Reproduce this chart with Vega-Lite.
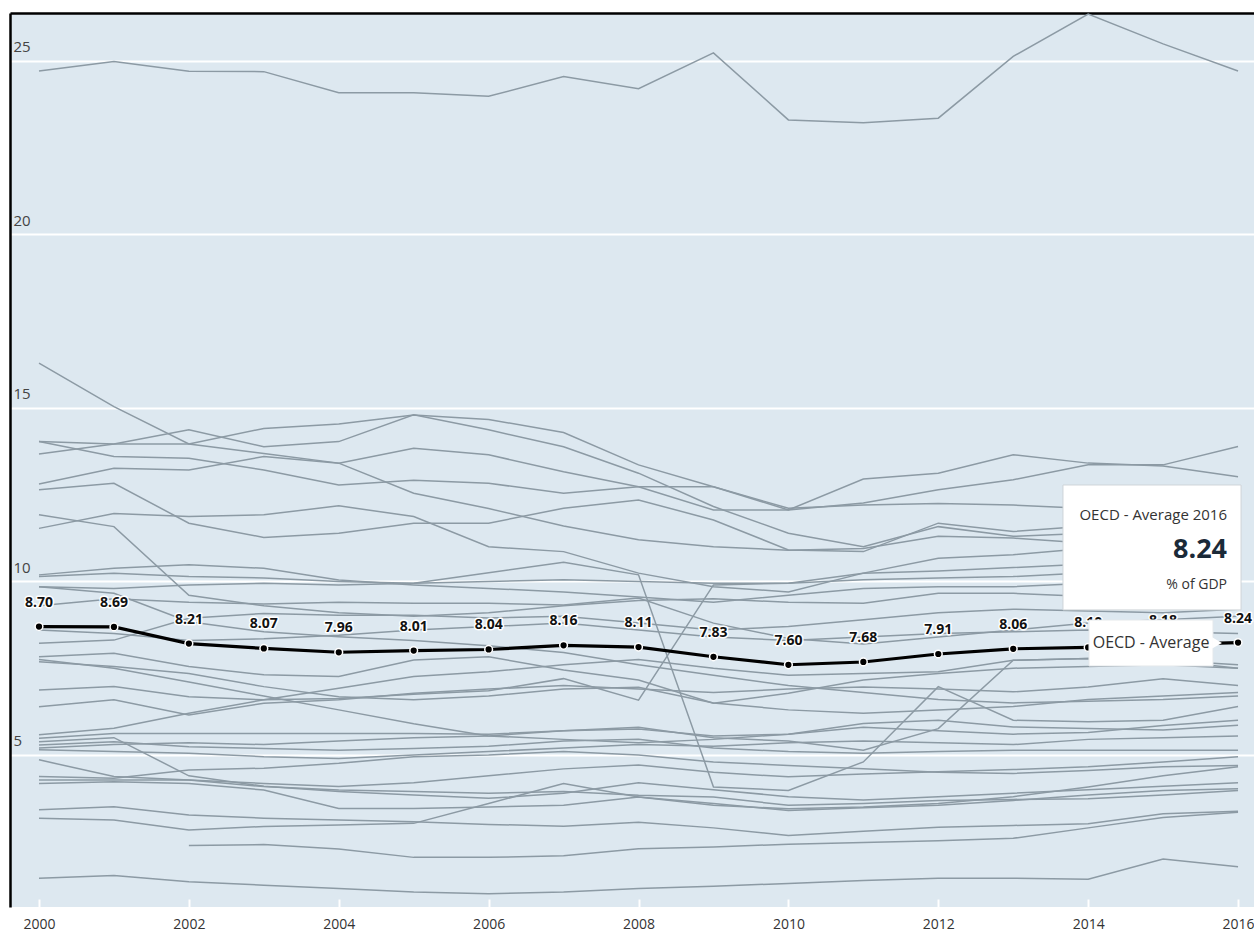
{
"$schema":"https://vega.github.io/schema/vega-lite/v6.json",
"width":1244,"height":894,
"autosize":{"type":"none"},
"padding":{"left":10,"top":13,"right":0,"bottom":42},
"background":"white",
"config":{"view":{"fill":"#dde8f0","stroke":null},"font":"Open Sans"},
"datasets":{
"oecd":[
{"year":2000,"value":8.70},{"year":2001,"value":8.69},{"year":2002,"value":8.21},{"year":2003,"value":8.07},{"year":2004,"value":7.96},{"year":2005,"value":8.01},{"year":2006,"value":8.04},{"year":2007,"value":8.16},{"year":2008,"value":8.11},{"year":2009,"value":7.83},{"year":2010,"value":7.60},{"year":2011,"value":7.68},{"year":2012,"value":7.91},{"year":2013,"value":8.06},{"year":2014,"value":8.10},{"year":2015,"value":8.18},{"year":2016,"value":8.24}],
"countries":[
{"country":"DNK","year":2000,"value":24.71},{"country":"DNK","year":2001,"value":24.98},{"country":"DNK","year":2002,"value":24.70},{"country":"DNK","year":2003,"value":24.69},{"country":"DNK","year":2004,"value":24.08},{"country":"DNK","year":2005,"value":24.08},{"country":"DNK","year":2006,"value":23.98},{"country":"DNK","year":2007,"value":24.55},{"country":"DNK","year":2008,"value":24.20},{"country":"DNK","year":2009,"value":25.23},{"country":"DNK","year":2010,"value":23.30},{"country":"DNK","year":2011,"value":23.22},{"country":"DNK","year":2012,"value":23.35},{"country":"DNK","year":2013,"value":25.13},{"country":"DNK","year":2014,"value":26.35},{"country":"DNK","year":2015,"value":25.49},{"country":"DNK","year":2016,"value":24.71},
{"country":"S01","year":2000,"value":16.29},{"country":"S01","year":2001,"value":15.04},{"country":"S01","year":2002,"value":13.96},{"country":"S01","year":2003,"value":13.69},{"country":"S01","year":2004,"value":13.41},{"country":"S01","year":2005,"value":12.54},{"country":"S01","year":2006,"value":12.10},{"country":"S01","year":2007,"value":11.60},{"country":"S01","year":2008,"value":11.20},{"country":"S01","year":2009,"value":11.00},{"country":"S01","year":2010,"value":10.90},{"country":"S01","year":2011,"value":10.95},{"country":"S01","year":2012,"value":11.30},{"country":"S01","year":2013,"value":11.25},{"country":"S01","year":2014,"value":11.10},{"country":"S01","year":2015,"value":11.20},{"country":"S01","year":2016,"value":11.30},
{"country":"S02","year":2000,"value":14.03},{"country":"S02","year":2001,"value":13.96},{"country":"S02","year":2002,"value":13.96},{"country":"S02","year":2003,"value":14.41},{"country":"S02","year":2004,"value":14.54},{"country":"S02","year":2005,"value":14.80},{"country":"S02","year":2006,"value":14.67},{"country":"S02","year":2007,"value":14.29},{"country":"S02","year":2008,"value":13.36},{"country":"S02","year":2009,"value":12.73},{"country":"S02","year":2010,"value":12.06},{"country":"S02","year":2011,"value":12.95},{"country":"S02","year":2012,"value":13.12},{"country":"S02","year":2013,"value":13.65},{"country":"S02","year":2014,"value":13.41},{"country":"S02","year":2015,"value":13.33},{"country":"S02","year":2016,"value":13.02},
{"country":"S03","year":2000,"value":13.67},{"country":"S03","year":2001,"value":13.96},{"country":"S03","year":2002,"value":14.37},{"country":"S03","year":2003,"value":13.88},{"country":"S03","year":2004,"value":14.03},{"country":"S03","year":2005,"value":14.80},{"country":"S03","year":2006,"value":14.37},{"country":"S03","year":2007,"value":13.88},{"country":"S03","year":2008,"value":13.12},{"country":"S03","year":2009,"value":12.16},{"country":"S03","year":2010,"value":11.39},{"country":"S03","year":2011,"value":11.00},{"country":"S03","year":2012,"value":11.58},{"country":"S03","year":2013,"value":11.30},{"country":"S03","year":2014,"value":11.39},{"country":"S03","year":2015,"value":11.44},{"country":"S03","year":2016,"value":11.49},
{"country":"S04","year":2000,"value":12.81},{"country":"S04","year":2001,"value":13.26},{"country":"S04","year":2002,"value":13.21},{"country":"S04","year":2003,"value":13.60},{"country":"S04","year":2004,"value":13.41},{"country":"S04","year":2005,"value":13.84},{"country":"S04","year":2006,"value":13.65},{"country":"S04","year":2007,"value":13.16},{"country":"S04","year":2008,"value":12.73},{"country":"S04","year":2009,"value":12.06},{"country":"S04","year":2010,"value":12.06},{"country":"S04","year":2011,"value":12.26},{"country":"S04","year":2012,"value":12.64},{"country":"S04","year":2013,"value":12.93},{"country":"S04","year":2014,"value":13.36},{"country":"S04","year":2015,"value":13.36},{"country":"S04","year":2016,"value":13.89},
{"country":"S05","year":2000,"value":14.03},{"country":"S05","year":2001,"value":13.60},{"country":"S05","year":2002,"value":13.55},{"country":"S05","year":2003,"value":13.21},{"country":"S05","year":2004,"value":12.78},{"country":"S05","year":2005,"value":12.92},{"country":"S05","year":2006,"value":12.83},{"country":"S05","year":2007,"value":12.54},{"country":"S05","year":2008,"value":12.73},{"country":"S05","year":2009,"value":12.73},{"country":"S05","year":2010,"value":12.11},{"country":"S05","year":2011,"value":12.20},{"country":"S05","year":2012,"value":12.25},{"country":"S05","year":2013,"value":12.20},{"country":"S05","year":2014,"value":12.10},{"country":"S05","year":2015,"value":11.95},{"country":"S05","year":2016,"value":11.85},
{"country":"S06","year":2000,"value":12.64},{"country":"S06","year":2001,"value":12.83},{"country":"S06","year":2002,"value":11.68},{"country":"S06","year":2003,"value":11.27},{"country":"S06","year":2004,"value":11.39},{"country":"S06","year":2005,"value":11.68},{"country":"S06","year":2006,"value":11.68},{"country":"S06","year":2007,"value":12.11},{"country":"S06","year":2008,"value":12.35},{"country":"S06","year":2009,"value":11.77},{"country":"S06","year":2010,"value":10.91},{"country":"S06","year":2011,"value":10.86},{"country":"S06","year":2012,"value":11.68},{"country":"S06","year":2013,"value":11.44},{"country":"S06","year":2014,"value":11.60},{"country":"S06","year":2015,"value":11.70},{"country":"S06","year":2016,"value":11.75},
{"country":"S07","year":2000,"value":11.53},{"country":"S07","year":2001,"value":11.96},{"country":"S07","year":2002,"value":11.87},{"country":"S07","year":2003,"value":11.92},{"country":"S07","year":2004,"value":12.18},{"country":"S07","year":2005,"value":11.87},{"country":"S07","year":2006,"value":11.00},{"country":"S07","year":2007,"value":10.86},{"country":"S07","year":2008,"value":10.24},{"country":"S07","year":2009,"value":9.85},{"country":"S07","year":2010,"value":9.70},{"country":"S07","year":2011,"value":10.24},{"country":"S07","year":2012,"value":10.67},{"country":"S07","year":2013,"value":10.77},{"country":"S07","year":2014,"value":10.96},{"country":"S07","year":2015,"value":11.10},{"country":"S07","year":2016,"value":11.20},
{"country":"S08","year":2000,"value":11.92},{"country":"S08","year":2001,"value":11.58},{"country":"S08","year":2002,"value":9.60},{"country":"S08","year":2003,"value":9.30},{"country":"S08","year":2004,"value":9.10},{"country":"S08","year":2005,"value":9.00},{"country":"S08","year":2006,"value":9.10},{"country":"S08","year":2007,"value":9.30},{"country":"S08","year":2008,"value":9.45},{"country":"S08","year":2009,"value":9.50},{"country":"S08","year":2010,"value":9.40},{"country":"S08","year":2011,"value":9.37},{"country":"S08","year":2012,"value":9.66},{"country":"S08","year":2013,"value":9.66},{"country":"S08","year":2014,"value":9.57},{"country":"S08","year":2015,"value":9.57},{"country":"S08","year":2016,"value":9.66},
{"country":"S09","year":2000,"value":10.19},{"country":"S09","year":2001,"value":10.38},{"country":"S09","year":2002,"value":10.48},{"country":"S09","year":2003,"value":10.38},{"country":"S09","year":2004,"value":10.04},{"country":"S09","year":2005,"value":9.90},{"country":"S09","year":2006,"value":9.80},{"country":"S09","year":2007,"value":9.70},{"country":"S09","year":2008,"value":9.55},{"country":"S09","year":2009,"value":9.40},{"country":"S09","year":2010,"value":9.60},{"country":"S09","year":2011,"value":9.80},{"country":"S09","year":2012,"value":9.85},{"country":"S09","year":2013,"value":9.85},{"country":"S09","year":2014,"value":9.95},{"country":"S09","year":2015,"value":10.05},{"country":"S09","year":2016,"value":10.10},
{"country":"S10","year":2000,"value":10.14},{"country":"S10","year":2001,"value":10.24},{"country":"S10","year":2002,"value":10.14},{"country":"S10","year":2003,"value":10.10},{"country":"S10","year":2004,"value":10.00},{"country":"S10","year":2005,"value":9.95},{"country":"S10","year":2006,"value":10.00},{"country":"S10","year":2007,"value":10.05},{"country":"S10","year":2008,"value":10.00},{"country":"S10","year":2009,"value":9.95},{"country":"S10","year":2010,"value":9.95},{"country":"S10","year":2011,"value":10.05},{"country":"S10","year":2012,"value":10.10},{"country":"S10","year":2013,"value":10.14},{"country":"S10","year":2014,"value":10.25},{"country":"S10","year":2015,"value":10.33},{"country":"S10","year":2016,"value":10.48},
{"country":"S11","year":2000,"value":9.85},{"country":"S11","year":2001,"value":9.80},{"country":"S11","year":2002,"value":9.90},{"country":"S11","year":2003,"value":9.95},{"country":"S11","year":2004,"value":9.90},{"country":"S11","year":2005,"value":9.95},{"country":"S11","year":2006,"value":10.25},{"country":"S11","year":2007,"value":10.55},{"country":"S11","year":2008,"value":10.19},{"country":"S11","year":2009,"value":4.08},{"country":"S11","year":2010,"value":3.98},{"country":"S11","year":2011,"value":4.80},{"country":"S11","year":2012,"value":6.97},{"country":"S11","year":2013,"value":6.00},{"country":"S11","year":2014,"value":5.96},{"country":"S11","year":2015,"value":6.00},{"country":"S11","year":2016,"value":6.40},
{"country":"S12","year":2000,"value":9.85},{"country":"S12","year":2001,"value":9.66},{"country":"S12","year":2002,"value":8.84},{"country":"S12","year":2003,"value":8.55},{"country":"S12","year":2004,"value":8.41},{"country":"S12","year":2005,"value":8.30},{"country":"S12","year":2006,"value":8.15},{"country":"S12","year":2007,"value":7.95},{"country":"S12","year":2008,"value":7.60},{"country":"S12","year":2009,"value":7.30},{"country":"S12","year":2010,"value":7.00},{"country":"S12","year":2011,"value":6.80},{"country":"S12","year":2012,"value":6.60},{"country":"S12","year":2013,"value":6.50},{"country":"S12","year":2014,"value":6.55},{"country":"S12","year":2015,"value":6.60},{"country":"S12","year":2016,"value":6.70},
{"country":"S13","year":2000,"value":9.30},{"country":"S13","year":2001,"value":9.50},{"country":"S13","year":2002,"value":9.40},{"country":"S13","year":2003,"value":9.35},{"country":"S13","year":2004,"value":9.40},{"country":"S13","year":2005,"value":9.37},{"country":"S13","year":2006,"value":9.37},{"country":"S13","year":2007,"value":9.32},{"country":"S13","year":2008,"value":9.52},{"country":"S13","year":2009,"value":8.80},{"country":"S13","year":2010,"value":8.36},{"country":"S13","year":2011,"value":8.20},{"country":"S13","year":2012,"value":8.40},{"country":"S13","year":2013,"value":8.60},{"country":"S13","year":2014,"value":8.80},{"country":"S13","year":2015,"value":8.90},{"country":"S13","year":2016,"value":9.00},
{"country":"S14","year":2000,"value":8.22},{"country":"S14","year":2001,"value":8.31},{"country":"S14","year":2002,"value":8.94},{"country":"S14","year":2003,"value":9.08},{"country":"S14","year":2004,"value":9.03},{"country":"S14","year":2005,"value":9.03},{"country":"S14","year":2006,"value":8.95},{"country":"S14","year":2007,"value":9.00},{"country":"S14","year":2008,"value":8.80},{"country":"S14","year":2009,"value":8.60},{"country":"S14","year":2010,"value":8.70},{"country":"S14","year":2011,"value":8.90},{"country":"S14","year":2012,"value":9.10},{"country":"S14","year":2013,"value":9.20},{"country":"S14","year":2014,"value":9.15},{"country":"S14","year":2015,"value":9.10},{"country":"S14","year":2016,"value":9.20},
{"country":"S15","year":2000,"value":7.83},{"country":"S15","year":2001,"value":7.93},{"country":"S15","year":2002,"value":7.55},{"country":"S15","year":2003,"value":7.31},{"country":"S15","year":2004,"value":7.26},{"country":"S15","year":2005,"value":7.74},{"country":"S15","year":2006,"value":7.83},{"country":"S15","year":2007,"value":7.45},{"country":"S15","year":2008,"value":7.16},{"country":"S15","year":2009,"value":6.49},{"country":"S15","year":2010,"value":6.78},{"country":"S15","year":2011,"value":7.16},{"country":"S15","year":2012,"value":7.35},{"country":"S15","year":2013,"value":7.50},{"country":"S15","year":2014,"value":7.55},{"country":"S15","year":2015,"value":7.60},{"country":"S15","year":2016,"value":7.50},
{"country":"S16","year":2000,"value":7.69},{"country":"S16","year":2001,"value":7.55},{"country":"S16","year":2002,"value":7.35},{"country":"S16","year":2003,"value":6.97},{"country":"S16","year":2004,"value":6.68},{"country":"S16","year":2005,"value":6.59},{"country":"S16","year":2006,"value":6.70},{"country":"S16","year":2007,"value":6.90},{"country":"S16","year":2008,"value":6.95},{"country":"S16","year":2009,"value":6.50},{"country":"S16","year":2010,"value":6.30},{"country":"S16","year":2011,"value":6.20},{"country":"S16","year":2012,"value":6.30},{"country":"S16","year":2013,"value":6.40},{"country":"S16","year":2014,"value":6.60},{"country":"S16","year":2015,"value":6.70},{"country":"S16","year":2016,"value":6.80},
{"country":"S17","year":2000,"value":6.87},{"country":"S17","year":2001,"value":6.97},{"country":"S17","year":2002,"value":6.68},{"country":"S17","year":2003,"value":6.59},{"country":"S17","year":2004,"value":6.63},{"country":"S17","year":2005,"value":6.75},{"country":"S17","year":2006,"value":6.85},{"country":"S17","year":2007,"value":7.20},{"country":"S17","year":2008,"value":6.58},{"country":"S17","year":2009,"value":9.90},{"country":"S17","year":2010,"value":9.95},{"country":"S17","year":2011,"value":10.24},{"country":"S17","year":2012,"value":10.30},{"country":"S17","year":2013,"value":10.40},{"country":"S17","year":2014,"value":10.50},{"country":"S17","year":2015,"value":10.60},{"country":"S17","year":2016,"value":10.70},
{"country":"S18","year":2000,"value":6.39},{"country":"S18","year":2001,"value":6.59},{"country":"S18","year":2002,"value":6.15},{"country":"S18","year":2003,"value":6.49},{"country":"S18","year":2004,"value":6.59},{"country":"S18","year":2005,"value":6.78},{"country":"S18","year":2006,"value":6.90},{"country":"S18","year":2007,"value":7.00},{"country":"S18","year":2008,"value":6.90},{"country":"S18","year":2009,"value":6.80},{"country":"S18","year":2010,"value":6.90},{"country":"S18","year":2011,"value":6.96},{"country":"S18","year":2012,"value":6.90},{"country":"S18","year":2013,"value":6.82},{"country":"S18","year":2014,"value":6.96},{"country":"S18","year":2015,"value":7.20},{"country":"S18","year":2016,"value":7.00},
{"country":"S19","year":2000,"value":7.75},{"country":"S19","year":2001,"value":7.50},{"country":"S19","year":2002,"value":7.10},{"country":"S19","year":2003,"value":6.70},{"country":"S19","year":2004,"value":6.30},{"country":"S19","year":2005,"value":5.90},{"country":"S19","year":2006,"value":5.55},{"country":"S19","year":2007,"value":5.45},{"country":"S19","year":2008,"value":5.35},{"country":"S19","year":2009,"value":5.45},{"country":"S19","year":2010,"value":5.60},{"country":"S19","year":2011,"value":5.91},{"country":"S19","year":2012,"value":6.00},{"country":"S19","year":2013,"value":5.81},{"country":"S19","year":2014,"value":5.76},{"country":"S19","year":2015,"value":5.72},{"country":"S19","year":2016,"value":5.86},
{"country":"S20","year":2000,"value":5.58},{"country":"S20","year":2001,"value":5.77},{"country":"S20","year":2002,"value":6.20},{"country":"S20","year":2003,"value":6.59},{"country":"S20","year":2004,"value":6.92},{"country":"S20","year":2005,"value":7.26},{"country":"S20","year":2006,"value":7.40},{"country":"S20","year":2007,"value":7.60},{"country":"S20","year":2008,"value":7.75},{"country":"S20","year":2009,"value":7.50},{"country":"S20","year":2010,"value":7.30},{"country":"S20","year":2011,"value":7.35},{"country":"S20","year":2012,"value":7.40},{"country":"S20","year":2013,"value":7.73},{"country":"S20","year":2014,"value":7.78},{"country":"S20","year":2015,"value":7.73},{"country":"S20","year":2016,"value":7.50},
{"country":"S21","year":2000,"value":5.48},{"country":"S21","year":2001,"value":5.62},{"country":"S21","year":2002,"value":5.62},{"country":"S21","year":2003,"value":5.62},{"country":"S21","year":2004,"value":5.62},{"country":"S21","year":2005,"value":5.62},{"country":"S21","year":2006,"value":5.60},{"country":"S21","year":2007,"value":5.70},{"country":"S21","year":2008,"value":5.80},{"country":"S21","year":2009,"value":5.50},{"country":"S21","year":2010,"value":5.40},{"country":"S21","year":2011,"value":5.14},{"country":"S21","year":2012,"value":5.76},{"country":"S21","year":2013,"value":7.73},{"country":"S21","year":2014,"value":7.78},{"country":"S21","year":2015,"value":7.73},{"country":"S21","year":2016,"value":7.60},
{"country":"S22","year":2000,"value":5.38},{"country":"S22","year":2001,"value":5.50},{"country":"S22","year":2002,"value":4.40},{"country":"S22","year":2003,"value":4.10},{"country":"S22","year":2004,"value":3.95},{"country":"S22","year":2005,"value":3.85},{"country":"S22","year":2006,"value":3.75},{"country":"S22","year":2007,"value":3.90},{"country":"S22","year":2008,"value":4.20},{"country":"S22","year":2009,"value":4.00},{"country":"S22","year":2010,"value":3.80},{"country":"S22","year":2011,"value":3.70},{"country":"S22","year":2012,"value":3.80},{"country":"S22","year":2013,"value":3.90},{"country":"S22","year":2014,"value":4.00},{"country":"S22","year":2015,"value":4.10},{"country":"S22","year":2016,"value":4.20},
{"country":"S23","year":2000,"value":5.29},{"country":"S23","year":2001,"value":5.38},{"country":"S23","year":2002,"value":5.24},{"country":"S23","year":2003,"value":5.19},{"country":"S23","year":2004,"value":5.14},{"country":"S23","year":2005,"value":5.19},{"country":"S23","year":2006,"value":5.25},{"country":"S23","year":2007,"value":5.40},{"country":"S23","year":2008,"value":5.45},{"country":"S23","year":2009,"value":5.20},{"country":"S23","year":2010,"value":5.10},{"country":"S23","year":2011,"value":5.05},{"country":"S23","year":2012,"value":5.10},{"country":"S23","year":2013,"value":5.14},{"country":"S23","year":2014,"value":5.14},{"country":"S23","year":2015,"value":5.14},{"country":"S23","year":2016,"value":5.14},
{"country":"S24","year":2000,"value":5.20},{"country":"S24","year":2001,"value":5.30},{"country":"S24","year":2002,"value":5.35},{"country":"S24","year":2003,"value":5.30},{"country":"S24","year":2004,"value":5.40},{"country":"S24","year":2005,"value":5.50},{"country":"S24","year":2006,"value":5.55},{"country":"S24","year":2007,"value":5.70},{"country":"S24","year":2008,"value":5.75},{"country":"S24","year":2009,"value":5.55},{"country":"S24","year":2010,"value":5.60},{"country":"S24","year":2011,"value":5.80},{"country":"S24","year":2012,"value":5.70},{"country":"S24","year":2013,"value":5.60},{"country":"S24","year":2014,"value":5.65},{"country":"S24","year":2015,"value":5.85},{"country":"S24","year":2016,"value":6.00},
{"country":"S25","year":2000,"value":5.15},{"country":"S25","year":2001,"value":5.10},{"country":"S25","year":2002,"value":5.05},{"country":"S25","year":2003,"value":4.95},{"country":"S25","year":2004,"value":4.90},{"country":"S25","year":2005,"value":5.00},{"country":"S25","year":2006,"value":5.10},{"country":"S25","year":2007,"value":5.20},{"country":"S25","year":2008,"value":5.30},{"country":"S25","year":2009,"value":5.25},{"country":"S25","year":2010,"value":5.35},{"country":"S25","year":2011,"value":5.40},{"country":"S25","year":2012,"value":5.35},{"country":"S25","year":2013,"value":5.30},{"country":"S25","year":2014,"value":5.45},{"country":"S25","year":2015,"value":5.50},{"country":"S25","year":2016,"value":5.55},
{"country":"S26","year":2000,"value":8.60},{"country":"S26","year":2001,"value":8.50},{"country":"S26","year":2002,"value":8.30},{"country":"S26","year":2003,"value":8.35},{"country":"S26","year":2004,"value":8.45},{"country":"S26","year":2005,"value":8.60},{"country":"S26","year":2006,"value":8.70},{"country":"S26","year":2007,"value":8.80},{"country":"S26","year":2008,"value":8.60},{"country":"S26","year":2009,"value":8.40},{"country":"S26","year":2010,"value":8.30},{"country":"S26","year":2011,"value":8.40},{"country":"S26","year":2012,"value":8.50},{"country":"S26","year":2013,"value":8.55},{"country":"S26","year":2014,"value":8.60},{"country":"S26","year":2015,"value":8.55},{"country":"S26","year":2016,"value":8.50},
{"country":"S27","year":2000,"value":4.86},{"country":"S27","year":2001,"value":4.38},{"country":"S27","year":2002,"value":4.28},{"country":"S27","year":2003,"value":4.18},{"country":"S27","year":2004,"value":4.09},{"country":"S27","year":2005,"value":4.20},{"country":"S27","year":2006,"value":4.40},{"country":"S27","year":2007,"value":4.60},{"country":"S27","year":2008,"value":4.71},{"country":"S27","year":2009,"value":4.50},{"country":"S27","year":2010,"value":4.37},{"country":"S27","year":2011,"value":4.45},{"country":"S27","year":2012,"value":4.52},{"country":"S27","year":2013,"value":4.58},{"country":"S27","year":2014,"value":4.66},{"country":"S27","year":2015,"value":4.80},{"country":"S27","year":2016,"value":4.95},
{"country":"S28","year":2000,"value":4.38},{"country":"S28","year":2001,"value":4.33},{"country":"S28","year":2002,"value":4.57},{"country":"S28","year":2003,"value":4.62},{"country":"S28","year":2004,"value":4.76},{"country":"S28","year":2005,"value":4.95},{"country":"S28","year":2006,"value":5.00},{"country":"S28","year":2007,"value":5.10},{"country":"S28","year":2008,"value":5.00},{"country":"S28","year":2009,"value":4.80},{"country":"S28","year":2010,"value":4.70},{"country":"S28","year":2011,"value":4.60},{"country":"S28","year":2012,"value":4.50},{"country":"S28","year":2013,"value":4.47},{"country":"S28","year":2014,"value":4.55},{"country":"S28","year":2015,"value":4.66},{"country":"S28","year":2016,"value":4.70},
{"country":"S29","year":2000,"value":4.28},{"country":"S29","year":2001,"value":4.28},{"country":"S29","year":2002,"value":4.28},{"country":"S29","year":2003,"value":4.09},{"country":"S29","year":2004,"value":3.99},{"country":"S29","year":2005,"value":3.95},{"country":"S29","year":2006,"value":3.90},{"country":"S29","year":2007,"value":3.95},{"country":"S29","year":2008,"value":3.84},{"country":"S29","year":2009,"value":3.79},{"country":"S29","year":2010,"value":3.55},{"country":"S29","year":2011,"value":3.60},{"country":"S29","year":2012,"value":3.69},{"country":"S29","year":2013,"value":3.72},{"country":"S29","year":2014,"value":3.74},{"country":"S29","year":2015,"value":3.85},{"country":"S29","year":2016,"value":3.98},
{"country":"S30","year":2000,"value":4.18},{"country":"S30","year":2001,"value":4.23},{"country":"S30","year":2002,"value":4.18},{"country":"S30","year":2003,"value":3.99},{"country":"S30","year":2004,"value":3.46},{"country":"S30","year":2005,"value":3.46},{"country":"S30","year":2006,"value":3.50},{"country":"S30","year":2007,"value":3.55},{"country":"S30","year":2008,"value":3.79},{"country":"S30","year":2009,"value":3.60},{"country":"S30","year":2010,"value":3.40},{"country":"S30","year":2011,"value":3.48},{"country":"S30","year":2012,"value":3.55},{"country":"S30","year":2013,"value":3.69},{"country":"S30","year":2014,"value":3.85},{"country":"S30","year":2015,"value":3.98},{"country":"S30","year":2016,"value":4.03},
{"country":"S31","year":2000,"value":3.42},{"country":"S31","year":2001,"value":3.51},{"country":"S31","year":2002,"value":3.27},{"country":"S31","year":2003,"value":3.18},{"country":"S31","year":2004,"value":3.13},{"country":"S31","year":2005,"value":3.08},{"country":"S31","year":2006,"value":3.00},{"country":"S31","year":2007,"value":2.95},{"country":"S31","year":2008,"value":3.06},{"country":"S31","year":2009,"value":2.90},{"country":"S31","year":2010,"value":2.68},{"country":"S31","year":2011,"value":2.80},{"country":"S31","year":2012,"value":2.92},{"country":"S31","year":2013,"value":2.97},{"country":"S31","year":2014,"value":3.02},{"country":"S31","year":2015,"value":3.31},{"country":"S31","year":2016,"value":3.38},
{"country":"S32","year":2000,"value":3.18},{"country":"S32","year":2001,"value":3.13},{"country":"S32","year":2002,"value":2.84},{"country":"S32","year":2003,"value":2.94},{"country":"S32","year":2004,"value":2.98},{"country":"S32","year":2005,"value":3.03},{"country":"S32","year":2006,"value":3.60},{"country":"S32","year":2007,"value":4.18},{"country":"S32","year":2008,"value":3.79},{"country":"S32","year":2009,"value":3.55},{"country":"S32","year":2010,"value":3.45},{"country":"S32","year":2011,"value":3.50},{"country":"S32","year":2012,"value":3.60},{"country":"S32","year":2013,"value":3.80},{"country":"S32","year":2014,"value":4.08},{"country":"S32","year":2015,"value":4.40},{"country":"S32","year":2016,"value":4.66},
{"country":"S33","year":2002,"value":2.39},{"country":"S33","year":2003,"value":2.42},{"country":"S33","year":2004,"value":2.29},{"country":"S33","year":2005,"value":2.05},{"country":"S33","year":2006,"value":2.05},{"country":"S33","year":2007,"value":2.10},{"country":"S33","year":2008,"value":2.30},{"country":"S33","year":2009,"value":2.35},{"country":"S33","year":2010,"value":2.43},{"country":"S33","year":2011,"value":2.48},{"country":"S33","year":2012,"value":2.53},{"country":"S33","year":2013,"value":2.60},{"country":"S33","year":2014,"value":2.90},{"country":"S33","year":2015,"value":3.20},{"country":"S33","year":2016,"value":3.35},
{"country":"S34","year":2000,"value":1.45},{"country":"S34","year":2001,"value":1.53},{"country":"S34","year":2002,"value":1.35},{"country":"S34","year":2003,"value":1.25},{"country":"S34","year":2004,"value":1.15},{"country":"S34","year":2005,"value":1.05},{"country":"S34","year":2006,"value":1.00},{"country":"S34","year":2007,"value":1.05},{"country":"S34","year":2008,"value":1.15},{"country":"S34","year":2009,"value":1.22},{"country":"S34","year":2010,"value":1.30},{"country":"S34","year":2011,"value":1.38},{"country":"S34","year":2012,"value":1.45},{"country":"S34","year":2013,"value":1.45},{"country":"S34","year":2014,"value":1.42},{"country":"S34","year":2015,"value":2.00},{"country":"S34","year":2016,"value":1.78}
]},
"layer":[
{"data":{"name":"countries"},
 "mark":{"type":"line","stroke":"#8c9aa4","strokeWidth":1.5,"clip":true},
 "encoding":{
  "x":{"field":"year","type":"quantitative","scale":{"domain":[1999.613,2016.213],"nice":false,"zero":false},
       "axis":{"orient":"bottom","values":[2000,2002,2004,2006,2008,2010,2012,2014,2016],"format":"d","grid":false,"domain":false,"ticks":true,"tickColor":"white","tickWidth":2,"tickSize":-8,"labelPadding":18,"labelColor":"#333333","labelFontSize":14,"labelFont":"Open Sans","labelFlush":false,"title":null}},
  "y":{"field":"value","type":"quantitative","scale":{"domain":[0.62,26.38],"nice":false,"zero":false},
       "axis":{"orient":"left","values":[5,10,15,20,25],"grid":true,"gridColor":"white","gridWidth":2,"ticks":false,"tickSize":0,"domain":true,"domainColor":"black","domainWidth":2.5,"labelAlign":"left","labelBaseline":"alphabetic","labelPadding":-3,"labelOffset":-9,"labelColor":"#444444","labelFontSize":15,"labelFont":"Open Sans","title":null}},
  "detail":{"field":"country"}}},
{"data":{"name":"oecd"},
 "mark":{"type":"line","stroke":"black","strokeWidth":3.2},
 "encoding":{
  "x":{"field":"year","type":"quantitative","axis":{"orient":"top","labels":false,"ticks":false,"grid":false,"domain":true,"domainColor":"black","domainWidth":2.5,"title":null}},
  "y":{"field":"value","type":"quantitative"}}},
{"data":{"name":"oecd"},
 "mark":{"type":"point","shape":"circle","filled":true,"fill":"black","stroke":"white","strokeWidth":1.5,"size":60,"opacity":1},
 "encoding":{
  "x":{"field":"year","type":"quantitative","axis":null},
  "y":{"field":"value","type":"quantitative"}}},
{"data":{"name":"oecd"},
 "mark":{"type":"text","dy":-24,"fontSize":14,"fontWeight":"bold","font":"Open Sans","fill":"white","stroke":"white","strokeWidth":3,"strokeJoin":"round"},
 "encoding":{
  "x":{"field":"year","type":"quantitative","axis":null},
  "y":{"field":"value","type":"quantitative"},
  "text":{"field":"value","type":"quantitative","format":".2f"}}},
{"data":{"name":"oecd"},
 "mark":{"type":"text","dy":-24,"fontSize":14,"fontWeight":"bold","font":"Open Sans","fill":"#111111"},
 "encoding":{
  "x":{"field":"year","type":"quantitative","axis":null},
  "y":{"field":"value","type":"quantitative"},
  "text":{"field":"value","type":"quantitative","format":".2f"}}},
{"data":{"values":[{}]},
 "mark":{"type":"rect","fill":"white","stroke":"#cfd4d8","strokeWidth":1},
 "encoding":{
  "x":{"datum":2013.664,"type":"quantitative","axis":null},"x2":{"datum":2016.04},
  "y":{"datum":12.78,"type":"quantitative"},"y2":{"datum":9.18}}},
{"data":{"values":[{}]},
 "mark":{"type":"text","text":"OECD - Average 2016","align":"right","baseline":"middle","fontSize":15,"font":"Open Sans","fill":"#333333"},
 "encoding":{"x":{"datum":2015.853,"type":"quantitative","axis":null},"y":{"datum":11.92,"type":"quantitative"}}},
{"data":{"values":[{}]},
 "mark":{"type":"text","text":"8.24","align":"right","baseline":"middle","fontSize":27,"fontWeight":"bold","font":"Open Sans","fill":"#1b2a38"},
 "encoding":{"x":{"datum":2015.853,"type":"quantitative","axis":null},"y":{"datum":10.91,"type":"quantitative"}}},
{"data":{"values":[{}]},
 "mark":{"type":"text","text":"% of GDP","align":"right","baseline":"middle","fontSize":14,"font":"Open Sans","fill":"#333333"},
 "encoding":{"x":{"datum":2015.853,"type":"quantitative","axis":null},"y":{"datum":9.90,"type":"quantitative"}}},
{"data":{"values":[{}]},
 "mark":{"type":"rect","fill":"white","stroke":"#e4e8eb","strokeWidth":1},
 "encoding":{
  "x":{"datum":2014.011,"type":"quantitative","axis":null},"x2":{"datum":2015.666},
  "y":{"datum":8.89,"type":"quantitative"},"y2":{"datum":7.565}}},
{"data":{"values":[{}]},
 "mark":{"type":"point","shape":"triangle-right","filled":true,"fill":"white","stroke":null,"size":130,"opacity":1},
 "encoding":{"x":{"datum":2015.72,"type":"quantitative","axis":null},"y":{"datum":8.23,"type":"quantitative"}}},
{"data":{"values":[{}]},
 "mark":{"type":"text","text":"OECD - Average","align":"center","baseline":"middle","fontSize":16,"font":"Open Sans","fill":"#333333"},
 "encoding":{"x":{"datum":2014.839,"type":"quantitative","axis":null},"y":{"datum":8.23,"type":"quantitative"}}}
]
}
